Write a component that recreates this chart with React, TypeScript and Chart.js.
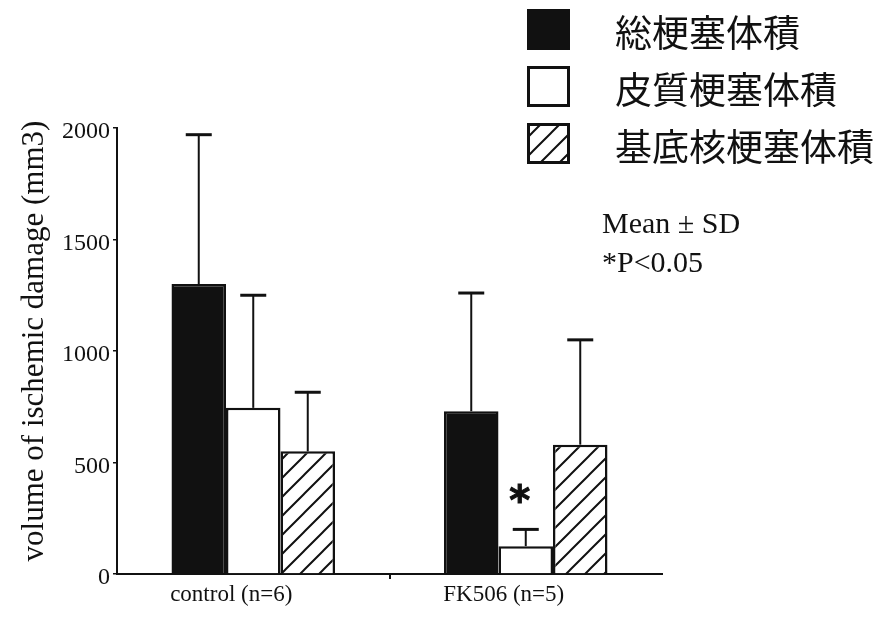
import React, { useEffect, useRef } from "react";
import { Chart, registerables } from "chart.js";

Chart.register(...registerables);

// ---- data ----
const categories = ["control (n=6)", "FK506 (n=5)"];
const seriesNames = ["総梗塞体積", "皮質梗塞体積", "基底核梗塞体積"];
const totalMean = [1300, 730];
const totalUpper = [1970, 1260];
const corticalMean = [745, 125];
const corticalUpper = [1250, 200];
const basalMean = [550, 580];
const basalUpper = [815, 1050];
const yTicks = [0, 500, 1000, 1500, 2000];
const yTitle = "volume of ischemic damage (mm3)";
const notes = ["Mean ± SD", "*P<0.05"];
const sigMarks = [{ dataset: 1, index: 1, text: "*" }];

const INK = "#111";

function makeHatch(): CanvasPattern | string {
  const s = 19;
  const c = document.createElement("canvas");
  c.width = s;
  c.height = s;
  const g = c.getContext("2d");
  if (!g) return "#fff";
  g.fillStyle = "#fff";
  g.fillRect(0, 0, s, s);
  g.strokeStyle = INK;
  g.lineWidth = 2;
  g.beginPath();
  g.moveTo(0, s);
  g.lineTo(s, 0);
  g.moveTo(-2, 2);
  g.lineTo(2, -2);
  g.moveTo(s - 2, s + 2);
  g.lineTo(s + 2, s - 2);
  g.stroke();
  const p = g.createPattern(c, "repeat");
  return p || "#fff";
}

export default function App() {
  const ref = useRef<HTMLCanvasElement>(null);

  useEffect(() => {
    const canvas = ref.current;
    if (!canvas) return;
    const hatch = makeHatch();
    const fills: any[] = [INK, "#fff", hatch];
    const uppers = [totalUpper, corticalUpper, basalUpper];

    const errorBars = {
      id: "errorBars",
      afterDatasetsDraw(chart: any) {
        const ctx = chart.ctx;
        const y = chart.scales.y;
        chart.data.datasets.forEach((_ds: any, di: number) => {
          const meta = chart.getDatasetMeta(di);
          meta.data.forEach((bar: any, i: number) => {
            const top = y.getPixelForValue(uppers[di][i]);
            ctx.save();
            ctx.strokeStyle = INK;
            ctx.lineWidth = 2;
            ctx.beginPath();
            ctx.moveTo(bar.x, bar.y);
            ctx.lineTo(bar.x, top);
            ctx.stroke();
            ctx.lineWidth = 3;
            ctx.beginPath();
            ctx.moveTo(bar.x - 13, top);
            ctx.lineTo(bar.x + 13, top);
            ctx.stroke();
            ctx.restore();
          });
        });
        sigMarks.forEach((m) => {
          const bar = chart.getDatasetMeta(m.dataset).data[m.index] as any;
          const top = y.getPixelForValue(uppers[m.dataset][m.index]);
          ctx.save();
          ctx.fillStyle = INK;
          ctx.strokeStyle = INK;
          ctx.lineWidth = 1;
          ctx.font = 'bold 40px "DejaVu Sans"';
          ctx.textAlign = "center";
          ctx.textBaseline = "alphabetic";
          ctx.fillText(m.text, bar.x - 6, top - 15);
          ctx.strokeText(m.text, bar.x - 6, top - 15);
          ctx.restore();
        });
      },
    };

    const legendAndNotes = {
      id: "legendAndNotes",
      afterDraw(chart: any) {
        const ctx = chart.ctx;
        const y = chart.scales.y;
        ctx.save();
        // y-axis title
        ctx.save();
        ctx.translate(35, (y.top + y.bottom) / 2 - 10);
        ctx.rotate(-Math.PI / 2);
        ctx.fillStyle = INK;
        ctx.font = '31px "Liberation Serif"';
        ctx.textAlign = "center";
        ctx.textBaseline = "middle";
        ctx.fillText(yTitle, 0, 0);
        ctx.restore();

        seriesNames.forEach((name, i) => {
          const bx = 527;
          const by = 9 + i * 57;
          const bw = 43;
          const bh = 41;
          ctx.fillStyle = fills[i];
          ctx.fillRect(bx, by, bw, bh);
          ctx.strokeStyle = INK;
          ctx.lineWidth = 3;
          ctx.strokeRect(bx + 1.5, by + 1.5, bw - 3, bh - 3);
          ctx.fillStyle = INK;
          ctx.font = '37px "Noto Sans CJK JP"';
          ctx.textAlign = "left";
          ctx.textBaseline = "middle";
          ctx.fillText(name, 615, by + bh / 2 + 3);
        });
        ctx.font = '30px "Liberation Serif"';
        ctx.textBaseline = "alphabetic";
        ctx.fillStyle = INK;
        notes.forEach((t, i) => {
          ctx.fillText(t, 602, 233 + i * 39);
        });
        ctx.restore();
      },
    };

    const chart = new Chart(canvas, {
      type: "bar",
      data: {
        labels: categories,
        datasets: seriesNames.map((name, i) => ({
          label: name,
          data: [totalMean, corticalMean, basalMean][i],
          backgroundColor: fills[i],
          borderColor: INK,
          borderWidth: 2.5,
          categoryPercentage: 0.6,
          barPercentage: 1.0,
        })),
      },
      options: {
        animation: false,
        responsive: false,
        devicePixelRatio: 1,
        layout: { padding: { left: 0, right: 214, top: 128, bottom: 0 } },
        plugins: {
          legend: { display: false },
          tooltip: { enabled: false },
        },
        scales: {
          x: {
            type: "category",
            offset: true,
            grid: {
              display: true,
              offset: true,
              drawOnChartArea: false,
              drawTicks: true,
              tickLength: 5,
              lineWidth: 2,
              color: (c: any) => (c.index === 1 ? INK : "rgba(0,0,0,0)"),
            },
            border: { display: true, color: INK, width: 2 },
            ticks: {
              color: INK,
              font: { family: '"Liberation Serif"', size: 23 },
              padding: 2,
              labelOffset: -22,
              maxRotation: 0,
              autoSkip: false,
            },
            afterFit: (s: any) => {
              s.height = 43;
            },
          },
          y: {
            min: 0,
            max: 2000,
            afterBuildTicks: (s: any) => {
              s.ticks = yTicks.map((v) => ({ value: v }));
            },
            grid: {
              drawOnChartArea: false,
              tickLength: 4,
              color: INK,
              lineWidth: 1.5,
            },
            border: { display: true, color: INK, width: 2 },
            ticks: {
              color: INK,
              font: { family: '"Liberation Serif"', size: 24 },
              padding: 3,
              labelOffset: 4,
              callback: (v: any) => String(v),
            },
            title: { display: false },
            afterFit: (s: any) => {
              s.width = 117;
            },
          },
        },
      },
      plugins: [errorBars, legendAndNotes],
    } as any);

    return () => chart.destroy();
  }, []);

  return (
    <div
      style={{
        position: "absolute",
        left: 0,
        top: 0,
        width: 876,
        height: 617,
        background: "#fff",
      }}
    >
      <canvas
        ref={ref}
        width={876}
        height={617}
        style={{ display: "block", width: 876, height: 617 }}
      />
    </div>
  );
}
